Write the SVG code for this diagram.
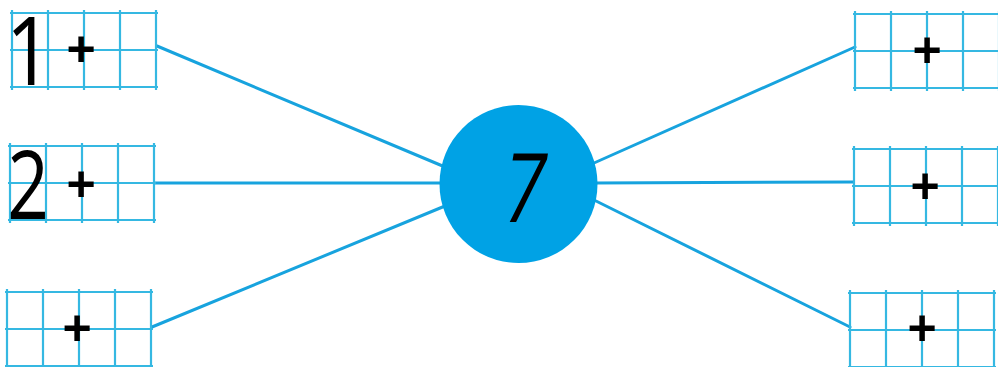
<svg xmlns="http://www.w3.org/2000/svg" width="998" height="367" viewBox="0 0 998 367">
<style>
.grid line{stroke:#35B8E2;stroke-width:2.2}
.conn line{stroke:#17A3DE;stroke-width:3;stroke-linecap:round}
.plus{font-family:"Liberation Sans",Arial,sans-serif;font-weight:bold;font-size:50px;fill:#000;text-anchor:middle}
.digit{font-family:"Open Sans","Liberation Sans",sans-serif;font-weight:normal;font-size:96px;fill:#000;text-anchor:middle}
</style>
<defs>
<g id="grid" class="grid">
<line x1="-2" y1="0" x2="146" y2="0"/>
<line x1="-2" y1="37" x2="146" y2="37"/>
<line x1="-2" y1="74" x2="146" y2="74"/>
<line x1="0" y1="-3" x2="0" y2="77"/>
<line x1="36" y1="-3" x2="36" y2="77"/>
<line x1="72" y1="-3" x2="72" y2="77"/>
<line x1="108" y1="-3" x2="108" y2="77"/>
<line x1="144" y1="-3" x2="144" y2="77"/>
</g>
</defs>
<rect width="998" height="367" fill="#fff"/>
<g id="connectors" class="conn">
<line x1="157" y1="46" x2="445" y2="167"/>
<line x1="155" y1="183" x2="445" y2="183"/>
<line x1="152" y1="327" x2="445" y2="206"/>
<line x1="855" y1="47" x2="594" y2="163"/>
<line x1="853" y1="182" x2="594" y2="183"/>
<line x1="850" y1="327" x2="594" y2="200"/>
</g>
<g id="box-l1">
<use href="#grid" transform="translate(12,13)"/>
<text class="digit" transform="translate(29,85) scale(0.85,1)">1</text>
<text class="plus" x="81" y="66">+</text>
</g>
<g id="box-l2">
<use href="#grid" transform="translate(10,146)"/>
<text class="digit" transform="translate(28,219) scale(0.76,1)">2</text>
<text class="plus" x="81" y="201">+</text>
</g>
<g id="box-l3">
<use href="#grid" transform="translate(7,292)"/>
<text class="plus" x="77" y="345">+</text>
</g>
<g id="box-r1">
<use href="#grid" transform="translate(855,14)"/>
<text class="plus" x="927" y="67">+</text>
</g>
<g id="box-r2">
<use href="#grid" transform="translate(854,149)"/>
<text class="plus" x="925" y="203">+</text>
</g>
<g id="box-r3">
<use href="#grid" transform="translate(850,293)"/>
<text class="plus" x="922" y="345">+</text>
</g>
<g id="center">
<circle cx="518.5" cy="184" r="79" fill="#00A2E5"/>
<text class="digit" transform="translate(520,222) scale(0.75,1) skewX(-12)">7</text>
</g>
</svg>
